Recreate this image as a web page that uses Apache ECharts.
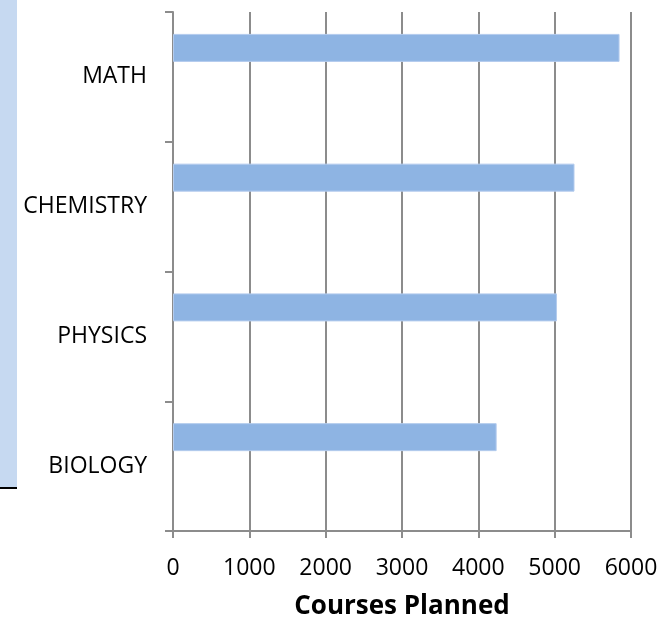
<!DOCTYPE html>
<html>
<head>
<meta charset="utf-8">
<script src="https://cdn.jsdelivr.net/npm/echarts@6/dist/echarts.min.js"></script>
<style>html,body{margin:0;padding:0;background:#fff;}#c{width:670px;height:618px;}</style>
</head>
<body>
<div id="c"></div>
<script>
var categories = ['BIOLOGY', 'PHYSICS', 'CHEMISTRY', 'MATH'];
var coursesPlanned = [4240, 5030, 5260, 5850];
var emptySeries = [null, null, null, null];
var xTicks = [0, 1000, 2000, 3000, 4000, 5000, 6000];
var axisTitle = 'Courses Planned';

var chart = echarts.init(document.getElementById('c'), null, {renderer: 'canvas'});
var FONT = '"Open Sans", "Noto Sans", sans-serif';
chart.setOption({
  animation: false,
  backgroundColor: '#ffffff',
  grid: {left: 173, right: 39, top: 12, bottom: 87, containLabel: false, outerBoundsMode: 'none'},
  graphic: [
    {type: 'rect', left: 0, top: 0, shape: {width: 17, height: 488}, style: {fill: '#c6d9f1'}, z: -1},
    {type: 'line', shape: {x1: 0, y1: 488, x2: 17, y2: 488}, style: {stroke: '#000', lineWidth: 2}}
  ],
  xAxis: {
    type: 'value',
    min: xTicks[0],
    max: xTicks[xTicks.length - 1],
    interval: 1000,
    name: axisTitle,
    nameLocation: 'middle',
    nameGap: 63,
    nameTextStyle: {fontFamily: FONT, fontSize: 26, fontWeight: 'bold', color: '#000'},
    axisLine: {show: true, lineStyle: {color: '#8c8c8c', width: 2}},
    axisTick: {show: true, length: 7, lineStyle: {color: '#8c8c8c', width: 2}},
    axisLabel: {fontFamily: FONT, fontSize: 23, color: '#000', margin: 26,
      formatter: function (v) { return String(v); }},
    splitLine: {show: true, lineStyle: {color: '#8c8c8c', width: 2}}
  },
  yAxis: {
    type: 'category',
    data: categories,
    axisLine: {show: true, lineStyle: {color: '#8c8c8c', width: 2}},
    axisTick: {show: true, length: 8, lineStyle: {color: '#8c8c8c', width: 2}},
    axisLabel: {fontFamily: FONT, fontSize: 23, color: '#000', margin: 26},
    splitLine: {show: false}
  },
  series: [
    {
      type: 'bar',
      data: coursesPlanned,
      barWidth: 28,
      barGap: '107%',
      itemStyle: {color: '#8eb4e3', borderColor: '#b3cbed', borderWidth: 1}
    },
    {
      type: 'bar',
      data: emptySeries,
      barWidth: 28
    }
  ]
});
</script>
</body>
</html>
